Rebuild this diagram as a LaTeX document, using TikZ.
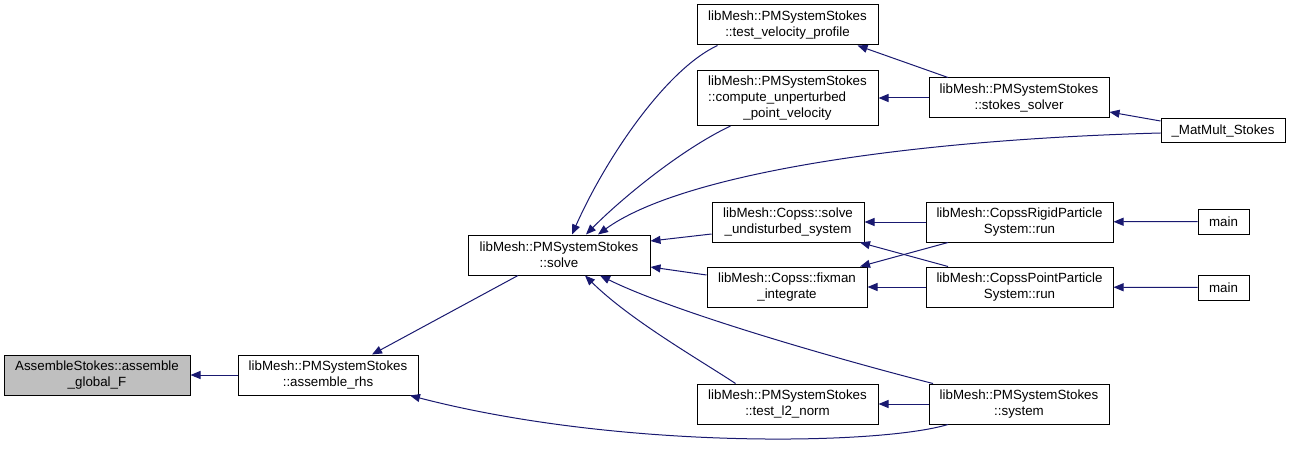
\documentclass[tikz,border=0pt]{standalone}
\usepackage{fontspec}
\setmainfont{Liberation Sans}
\usetikzlibrary{arrows.meta,calc}
\definecolor{edgeblue}{HTML}{191970}

\begin{document}
\begin{tikzpicture}[x=0.75pt, y=-0.75pt,
            fn/.style={rectangle, draw=black, line width=0.75pt, fill=white, inner sep=0pt, align=center, font=\fontsize{10pt}{11.7pt}\selectfont},
            hl/.style={fn, fill=black!25},
            sz/.style 2 args={minimum width=#1*0.75pt, minimum height=#2*0.75pt},
            edge/.style={-{Triangle[length=7.5pt,width=6pt]}, draw=edgeblue, line width=0.75pt}
        ]
            \useasboundingbox (0,0) rectangle (1291,449);
            \node[hl, sz={186}{40}] (assemble) at (97,375) {AssembleStokes::assemble\\\_global\_F};
            \node[fn, sz={180}{40}] (rhs) at (328,375) {libMesh::PMSystemStokes\\::assemble\_rhs};
            \node[fn, sz={182}{40}] (solve) at (559,255) {libMesh::PMSystemStokes\\::solve};
            \node[fn, sz={181}{40}] (velprof) at (787.5,25) {libMesh::PMSystemStokes\\::test\_velocity\_profile};
            \node[fn, sz={181}{55}] (unpert) at (787.5,98) {libMesh::PMSystemStokes\\\rlap{::compute\_unperturbed}\phantom{libMesh::PMSystemStokes}\\\_point\_velocity};
            \node[fn, sz={180}{40}] (stsolver) at (1019,98) {libMesh::PMSystemStokes\\::stokes\_solver};
            \node[fn, sz={124}{24}] (matmult) at (1223,131) {\_MatMult\_Stokes};
            \node[fn, sz={152}{40}] (undist) at (788,222) {libMesh::Copss::solve\\\_undisturbed\_system};
            \node[fn, sz={160}{40}] (fixman) at (787,287) {libMesh::Copss::fixman\\\_integrate};
            \node[fn, sz={187}{40}] (rigid) at (1019.5,222) {libMesh::CopssRigidParticle\\System::run};
            \node[fn, sz={187}{40}] (point) at (1019.5,287) {libMesh::CopssPointParticle\\System::run};
            \node[fn, sz={51}{25}] (mainA) at (1223.5,221.5) {main};
            \node[fn, sz={51}{25}] (mainB) at (1223.5,287.5) {main};
            \node[fn, sz={181}{40}] (ltwo) at (787.5,404) {libMesh::PMSystemStokes\\::test\_l2\_norm};
            \node[fn, sz={180}{40}] (system) at (1019,404) {libMesh::PMSystemStokes\\::system};
            \draw[edge] (rhs) -- (assemble);
            \draw[edge] ($(solve.south)+(-41,0)$) -- ($(rhs.north)+(44,0)$);
            \draw[edge] ($(system.south)+(-71,0)$) .. controls (880,445) and (620,450) .. ($(rhs.south)+(82,0)$);
            \draw[edge] ($(velprof.south)+(-70,0)$) .. controls (665,70) and (605,160) .. ($(solve.north)+(13,0)$);
            \draw[edge] ($(unpert.south)+(-57,0)$) .. controls (680,150) and (620,200) .. ($(solve.north)+(27,0)$);
            \draw[edge] ($(matmult.west)+(0,2)$) .. controls (900,140) and (680,175) .. ($(solve.north)+(39,0)$);
            \draw[edge] ($(undist.west)+(0,12)$) -- ($(solve.east)+(0,-14)$);
            \draw[edge] ($(fixman.west)+(0,-12)$) -- ($(solve.east)+(0,12)$);
            \draw[edge] ($(ltwo.north)+(-52,0)$) .. controls (700,360) and (630,320) .. ($(solve.south)+(26,0)$);
            \draw[edge] ($(system.north)+(-86,0)$) .. controls (860,365) and (680,315) .. ($(solve.south)+(41,0)$);
            \draw[edge] ($(stsolver.north)+(-71,0)$) -- ($(velprof.south)+(70,0)$);
            \draw[edge] (stsolver) -- (unpert);
            \draw[edge] ($(matmult.west)+(0,-10)$) -- ($(stsolver.east)+(0,14)$);
            \draw[edge] (rigid) -- (undist);
            \draw[edge] ($(point.north)+(-71.5,0)$) -- ($(undist.south)+(72,0)$);
            \draw[edge] ($(rigid.south)+(-71.5,0)$) -- ($(fixman.north)+(73,0)$);
            \draw[edge] (point) -- (fixman);
            \draw[edge] (mainA) -- (rigid);
            \draw[edge] (mainB) -- (point);
            \draw[edge] (system) -- (ltwo);
        \end{tikzpicture}
\end{document}
